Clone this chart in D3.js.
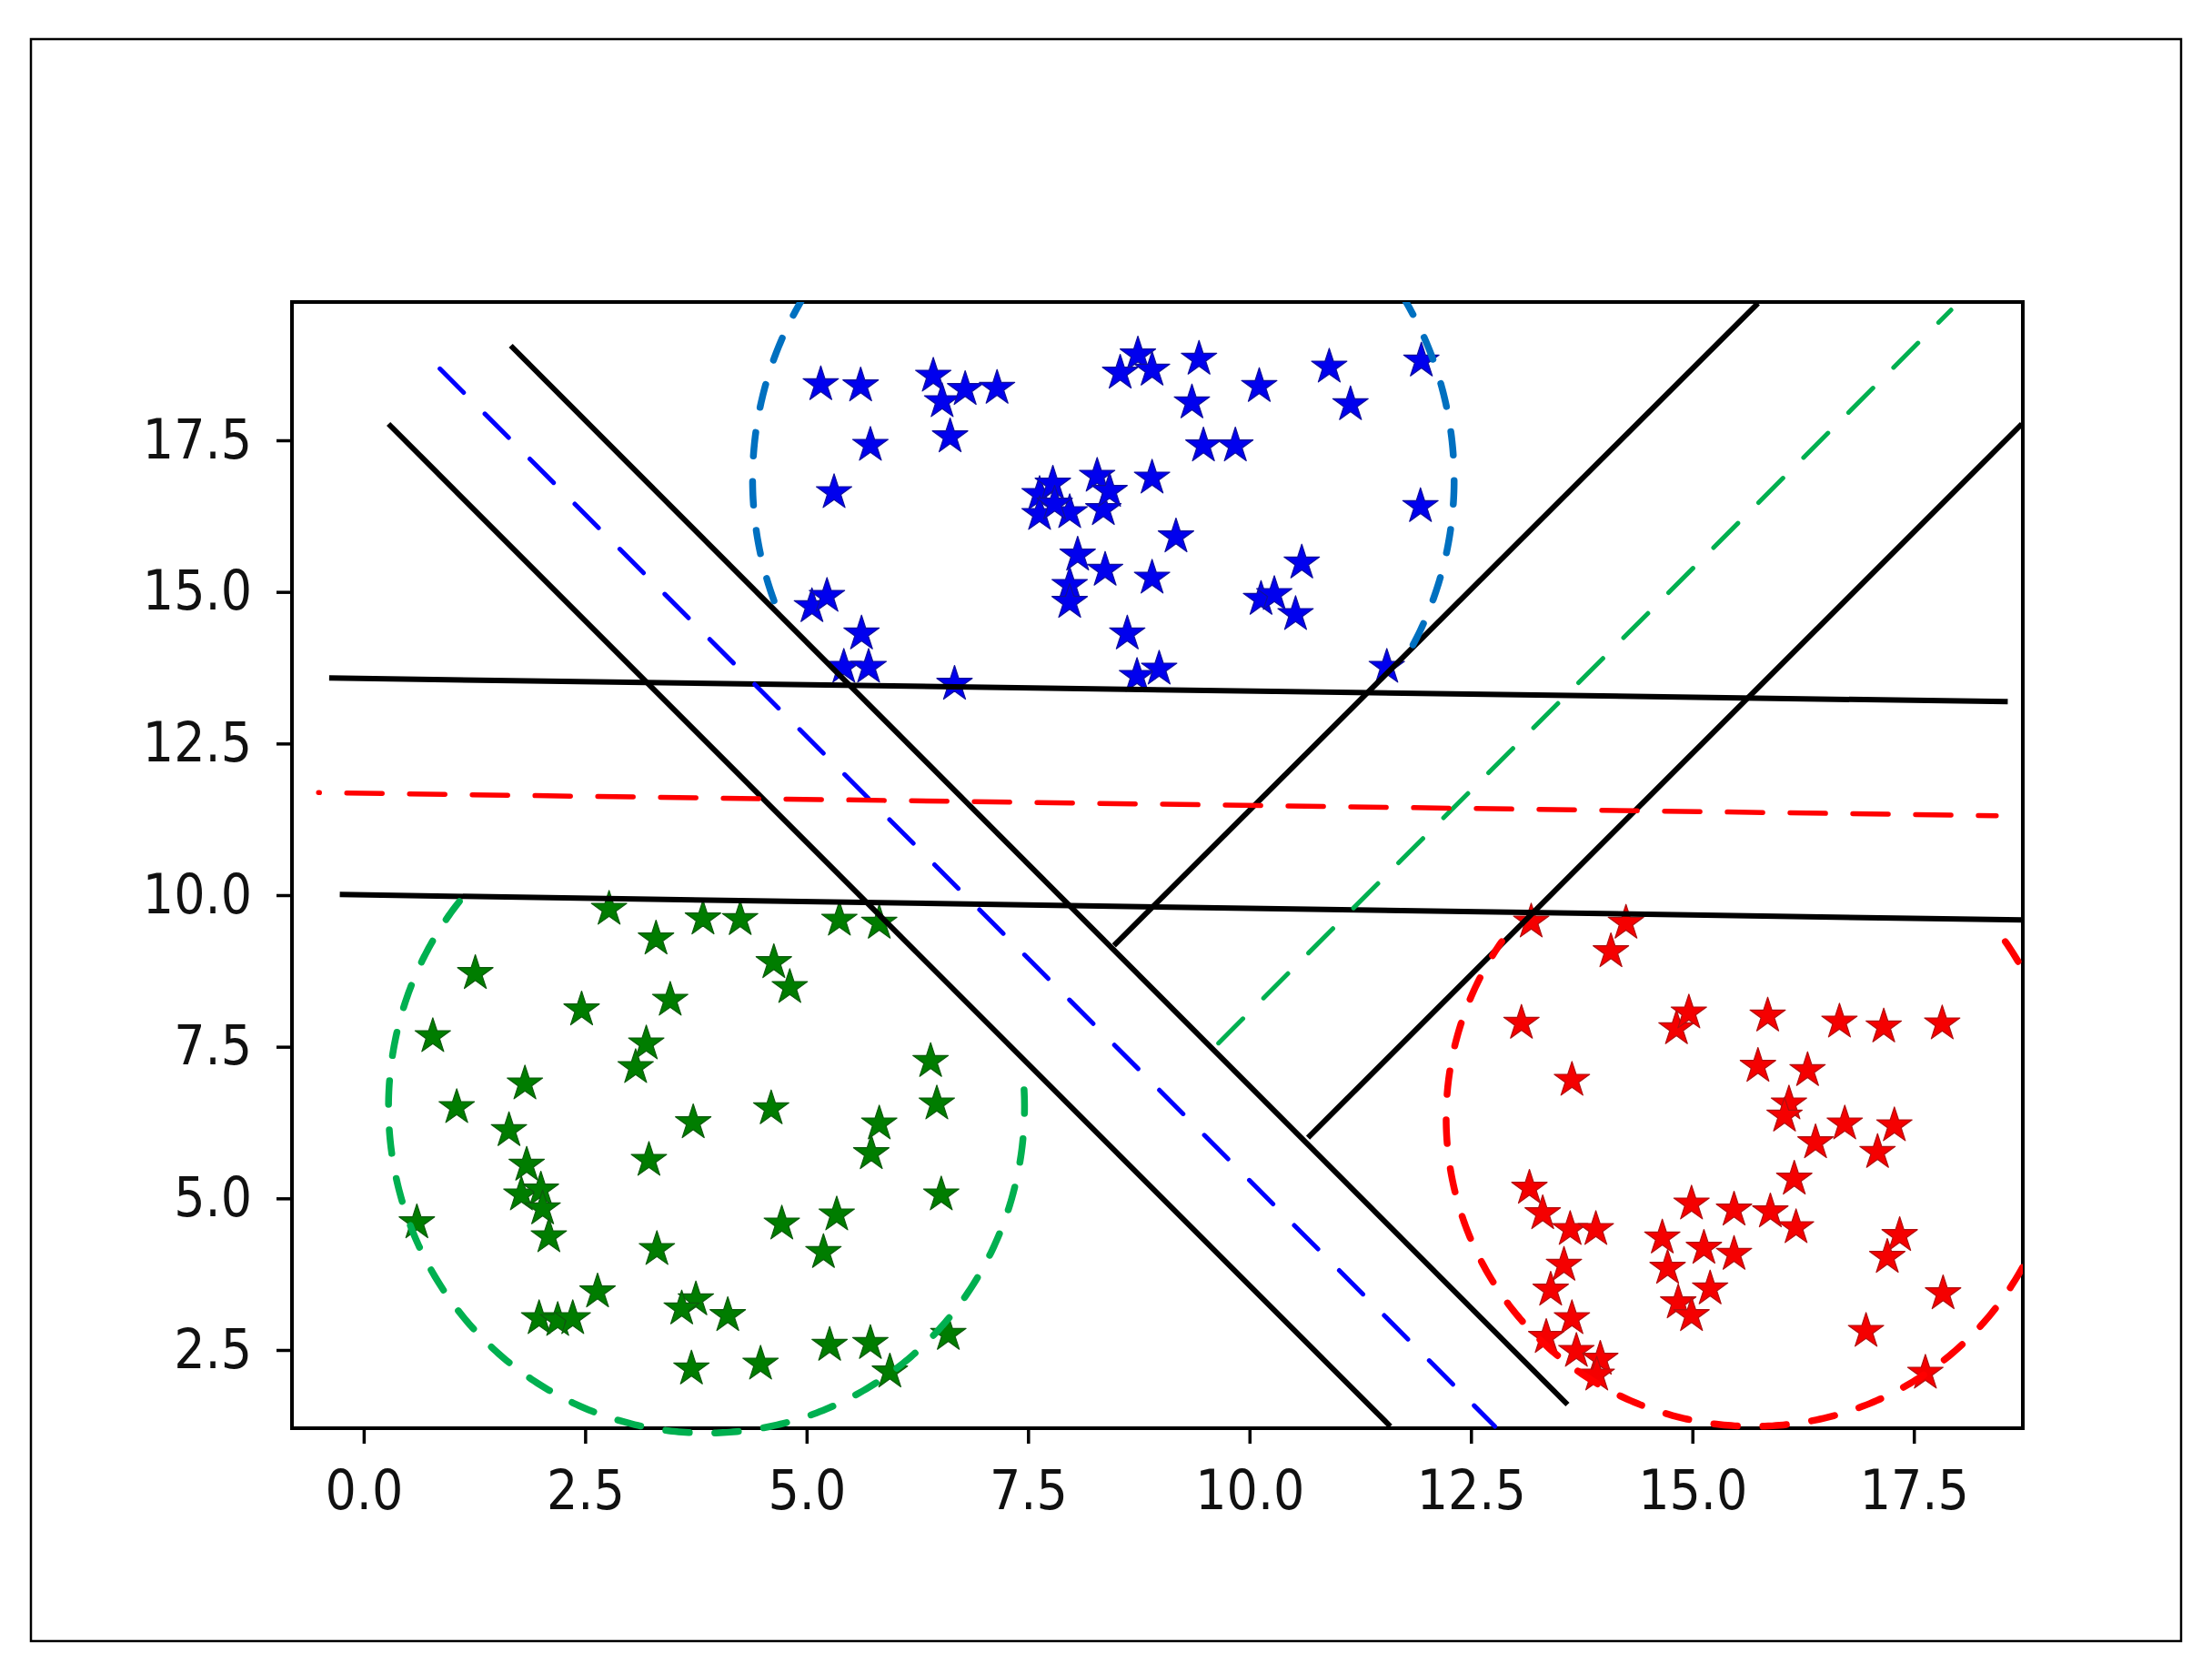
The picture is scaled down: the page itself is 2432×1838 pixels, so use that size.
<!DOCTYPE html>
<html>
<head>
<meta charset="utf-8">
<script src="https://cdn.jsdelivr.net/npm/d3@7"></script>
<style>
  body { margin: 0; background: #fff; }
  .tick text { font-family: "DejaVu Sans Condensed", "DejaVu Sans", sans-serif; font-stretch: condensed; }
</style>
</head>
<body>
<script>
// cluster points
const blueX = [5.16, 5.61, 6.43, 6.53, 6.79, 7.15, 5.72, 6.62, 5.31,
  7.63, 7.78, 7.63, 7.97, 7.80, 8.28, 8.35, 8.42, 8.06, 8.37, 7.97, 7.97,
  5.06, 5.23, 5.62, 5.42, 5.70, 6.67,
  8.74, 8.54, 8.90, 9.43, 9.35, 10.11, 10.90, 11.14, 11.94, 9.48, 9.84, 8.90,
  11.93, 9.17, 10.59, 8.90, 10.13, 10.28, 10.52, 8.62, 8.73, 8.98, 11.55];
const blueY = [18.42, 18.40, 18.56, 18.14, 18.34, 18.36, 17.42, 17.56, 16.64,
  16.61, 16.78, 16.28, 16.31, 16.45, 16.91, 16.36, 16.66, 15.61, 15.36, 15.11, 14.83,
  14.76, 14.93, 14.31, 13.76, 13.76, 13.48,
  18.91, 18.61, 18.66, 18.84, 18.12, 18.39, 18.71, 18.09, 18.81, 17.41, 17.41, 16.88,
  16.41, 15.91, 15.48, 15.23, 14.88, 14.96, 14.63, 14.31, 13.61, 13.73, 13.76];

const greenX = [2.77, 3.30, 1.26, 2.46, 3.46, 0.78, 3.19, 3.07, 1.82, 1.05, 1.64, 3.22,
  1.84, 1.78, 2.00, 2.02, 2.09, 0.60, 3.31, 2.64, 1.98, 2.19, 2.36,
  3.83, 4.25, 5.37, 5.82, 4.63, 4.81, 6.40, 6.47, 4.60, 3.72, 5.82, 5.73, 6.52,
  4.72, 5.34, 5.19, 3.75, 3.59, 4.11, 5.26, 5.72, 6.60, 3.70, 4.48, 5.94];
const greenY = [9.77, 9.28, 8.71, 8.11, 8.27, 7.67, 7.55, 7.16, 6.89, 6.50, 6.12, 5.63,
  5.55, 5.06, 5.14, 4.83, 4.37, 4.60, 4.16, 3.46, 3.02, 2.99, 3.02,
  9.61, 9.60, 9.59, 9.54, 8.89, 8.48, 7.26, 6.56, 6.48, 6.25, 6.23, 5.74, 5.06,
  4.58, 4.73, 4.11, 3.33, 3.18, 3.07, 2.58, 2.61, 2.76, 2.19, 2.27, 2.14];

const redX = [13.18, 14.25, 14.08, 13.07, 14.82, 14.96, 13.64, 13.16, 13.31, 13.62, 13.91,
  13.55, 13.40, 13.64, 13.35, 13.69, 13.96, 13.92, 14.99, 14.66, 15.13, 14.72, 15.20,
  14.84, 14.99,
  15.85, 16.66, 17.16, 17.82, 15.74, 16.30, 16.09, 16.04, 16.72, 16.39, 17.28, 17.09,
  16.15, 15.47, 15.88, 16.17, 15.47, 17.34, 17.20, 17.83, 16.96, 17.63];
const redY = [9.56, 9.54, 9.07, 7.89, 7.80, 8.06, 6.95, 5.17, 4.75, 4.49, 4.49,
  3.90, 3.49, 3.02, 2.71, 2.48, 2.35, 2.09, 4.91, 4.35, 4.18, 3.85, 3.51,
  3.28, 3.07,
  8.01, 7.91, 7.83, 7.88, 7.18, 7.11, 6.56, 6.36, 6.23, 5.92, 6.20, 5.76,
  5.32, 4.81, 4.78, 4.52, 4.08, 4.39, 4.03, 3.43, 2.81, 2.12];

// separating lines [x1, y1, x2, y2]
const blackLines = [
  [0.28, 17.77, 11.59, 1.24],
  [1.66, 19.06, 13.59, 1.60],
  [8.47, 9.17, 15.74, 19.76],
  [10.66, 6.00, 18.72, 17.77],
  [-0.39, 13.58, 18.56, 13.19],
  [-0.27, 10.01, 18.73, 9.59]
];
const blueLine = [0.86, 18.68, 12.77, 1.24];
const greenLine = [9.65, 7.56, 17.92, 19.65];
const redLine = [-0.51, 11.69, 18.43, 11.31];

// class boundaries: [cx, cy, rx, ry, startDeg, endDeg]
const greenRing = [3.87, 6.51, 3.59, 5.38, 3, -219];
const blueRing = [8.35, 16.85, 3.96, 5.80, -28, 201];
const redRing = [15.69, 6.32, 3.47, 5.08, 35, -215];

const xTicks = [0, 2.5, 5, 7.5, 10, 12.5, 15, 17.5];
const yTicks = [2.5, 5, 7.5, 10, 12.5, 15, 17.5];

const W = 2432, H = 1838;
const m = { left: 321, right: 2224, top: 332, bottom: 1570 };

const x = d3.scaleLinear().domain([-0.81, 18.73]).range([m.left, m.right]);
const y = d3.scaleLinear().domain([1.21, 19.78]).range([m.bottom, m.top]);

const svg = d3.select("body").append("svg")
  .attr("width", W)
  .attr("height", H);

svg.append("rect").attr("width", W).attr("height", H).attr("fill", "#fff");

// outer border
svg.append("rect")
  .attr("x", 34).attr("y", 43)
  .attr("width", 2364).attr("height", 1761)
  .attr("fill", "none").attr("stroke", "#000").attr("stroke-width", 2.5);

svg.append("clipPath").attr("id", "plotclip")
  .append("rect")
  .attr("x", m.left).attr("y", m.top)
  .attr("width", m.right - m.left).attr("height", m.bottom - m.top + 14);

// axes
const fmt = d3.format(".1f");
const xAxis = svg.append("g")
  .attr("transform", `translate(0,${m.bottom})`)
  .call(d3.axisBottom(x).tickValues(xTicks).tickFormat(fmt).tickSize(17).tickSizeOuter(0).tickPadding(29));
const yAxis = svg.append("g")
  .attr("transform", `translate(${m.left},0)`)
  .call(d3.axisLeft(y).tickValues(yTicks).tickFormat(fmt).tickSize(17).tickSizeOuter(0).tickPadding(27));

[xAxis, yAxis].forEach(g => {
  g.select(".domain").remove();
  g.selectAll(".tick line").attr("stroke", "#000").attr("stroke-width", 3.5);
  g.selectAll(".tick text").attr("fill", "#111").style("font-size", "60px");
});

svg.append("rect")
  .attr("x", m.left).attr("y", m.top)
  .attr("width", m.right - m.left).attr("height", m.bottom - m.top)
  .attr("fill", "none").attr("stroke", "#000").attr("stroke-width", 4);

// stars
const star = d3.symbol(d3.symbolStar).size(470);
function drawStars(xs, ys, fill, edge) {
  svg.append("g").selectAll("path")
    .data(d3.zip(xs, ys))
    .enter()
    .append("path")
    .attr("d", star)
    .attr("transform", d => `translate(${x(d[0])},${y(d[1])})`)
    .attr("fill", fill)
    .attr("stroke", edge)
    .attr("stroke-width", 1.2)
    .attr("stroke-linejoin", "round");
}
drawStars(blueX, blueY, "#0000ee", "#10109a");
drawStars(greenX, greenY, "#007d00", "#0d5a0d");
drawStars(redX, redY, "#f50000", "#b01010");

// lines
const segLine = d3.line().x(d => x(d[0])).y(d => y(d[1]));
const segPts = s => [[s[0], s[1]], [s[2], s[3]]];

svg.append("g").selectAll("path")
  .data(blackLines)
  .enter()
  .append("path")
  .attr("d", d => segLine(segPts(d)))
  .attr("stroke", "#000")
  .attr("stroke-width", 6)
  .attr("fill", "none");

function dashed(seg, color, width, dash, offset) {
  svg.append("path")
    .attr("d", segLine(segPts(seg)))
    .attr("stroke", color)
    .attr("stroke-width", width)
    .attr("stroke-dasharray", dash)
    .attr("stroke-dashoffset", offset || 0)
    .attr("stroke-linecap", "round")
    .attr("fill", "none");
}
dashed(blueLine, "#0000ff", 5, "37,33");
dashed(greenLine, "#00b050", 5, "38,32");
dashed(redLine, "#ff0000", 5.5, "39,30", 38);

// rings
function ring(r, color) {
  const [cx, cy, rx, ry, a0, a1] = r;
  const pts = d3.range(0, 361).map(i => {
    const t = (a0 + (a1 - a0) * i / 360) * Math.PI / 180;
    return [cx + rx * Math.cos(t), cy + ry * Math.sin(t)];
  });
  svg.append("path")
    .attr("clip-path", "url(#plotclip)")
    .attr("d", segLine(pts))
    .attr("stroke", color)
    .attr("stroke-width", 7.5)
    .attr("stroke-dasharray", "26,28")
    .attr("stroke-linecap", "round")
    .attr("fill", "none");
}
ring(greenRing, "#00b050");
ring(blueRing, "#0070c0");
ring(redRing, "#ff0000");
</script>
</body>
</html>
